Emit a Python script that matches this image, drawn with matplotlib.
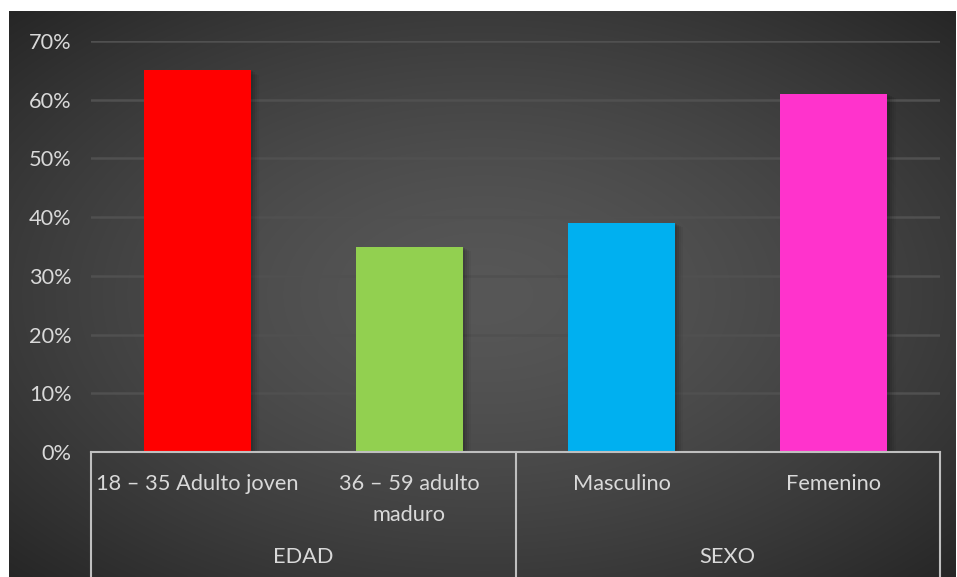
import numpy as np
import matplotlib
matplotlib.use("Agg")
import matplotlib.pyplot as plt
from matplotlib.patches import Rectangle
from matplotlib.lines import Line2D

plt.rcParams['font.family'] = ['Lato', 'DejaVu Sans']

# Data
categories = ["18 – 35 Adulto joven", "36 – 59 adulto\nmaduro", "Masculino", "Femenino"]
groups = ["EDAD", "SEXO"]
group_sizes = [2, 2]
values = [0.65, 0.35, 0.39, 0.61]
colors = ["#FF0000", "#92D050", "#00B0F0", "#FF33CC"]
yticks = [0, 0.1, 0.2, 0.3, 0.4, 0.5, 0.6, 0.7]

W, H = 957, 577
fig = plt.figure(figsize=(W / 100, H / 100), dpi=100)
fig.patch.set_facecolor("white")

# Radial gradient backdrop
bg = fig.add_axes([9 / W, 0, (956 - 9) / W, (H - 11) / H])
bg.set_axis_off()
ny, nx = 300, 500
yy, xx = np.mgrid[0:ny, 0:nx]
cx, cy = nx * 0.5, ny * 0.5
r = np.sqrt(((xx - cx) / (nx * 0.5)) ** 2 + ((yy - cy) / (ny * 0.5)) ** 2) / np.sqrt(2)
r = np.clip(r, 0, 1)
c_in, c_out = 0x57 / 255, 0x26 / 255
g = c_in + (c_out - c_in) * r ** 1.5
img = np.dstack([g, g, g])
bg.imshow(img, aspect="auto", extent=[0, 1, 0, 1], interpolation="bilinear")
bg.set_xlim(0, 1)
bg.set_ylim(0, 1)

# Plot area
x0, x1 = 91, 940
y_top, y_zero = 41, 452
ax = fig.add_axes([x0 / W, (H - y_zero) / H, (x1 - x0) / W, (y_zero - y_top) / H])
ax.set_facecolor("none")
ax.set_xlim(-0.5, len(values) - 0.5)
ax.set_ylim(0, 0.7)

for y in yticks[1:]:
    ax.axhline(y, color="#505050", lw=1.8, zorder=0)

x = np.arange(len(values))
bw = 0.505
# soft shadows behind bars
for xi, v in zip(x, values):
    for k, a in enumerate([0.10, 0.08, 0.06, 0.04]):
        d = 0.006 + k * 0.006
        ax.add_patch(Rectangle((xi - bw / 2 + d * 0.6, 0), bw + d, v - d * 0.3,
                               facecolor="black", alpha=a, lw=0, zorder=1))
ax.bar(x, values, width=bw, color=colors, zorder=2)

fs = 15.7
ax.set_yticks(yticks)
ax.set_yticklabels([f"{int(round(t * 100))}%" for t in yticks])
ax.tick_params(axis="y", length=0, pad=14, labelsize=fs, labelcolor="#d9d9d9")
ax.set_xticks([])
for s in ax.spines.values():
    s.set_visible(False)

# Multi-level category axis
axis_col = "#bfbfbf"
bottom = -(H - y_zero) / (y_zero - y_top)
ax.add_line(Line2D([0, 1], [0, 0], transform=ax.transAxes, color=axis_col, lw=1.5, clip_on=False, zorder=3))
n = len(values)
edges = [0]
for s in group_sizes:
    edges.append(edges[-1] + s)
for e in edges:
    xa = e / n
    ax.add_line(Line2D([xa, xa], [0, bottom], transform=ax.transAxes, color=axis_col, lw=1.5, clip_on=False))

px = 1 / (y_zero - y_top)
for xi, lab in zip(x, categories):
    ax.text(xi, -(22 * px), lab, transform=ax.get_xaxis_transform(), ha="center", va="top",
            fontsize=fs, color="#d9d9d9", linespacing=1.7)
for i, gname in enumerate(groups):
    xc = (edges[i] + edges[i + 1]) / 2 - 0.5
    ax.text(xc, -(105 * px), gname, transform=ax.get_xaxis_transform(), ha="center", va="center",
            fontsize=fs, color="#d9d9d9")

fig.savefig("out.png", dpi=100, facecolor=fig.get_facecolor())
